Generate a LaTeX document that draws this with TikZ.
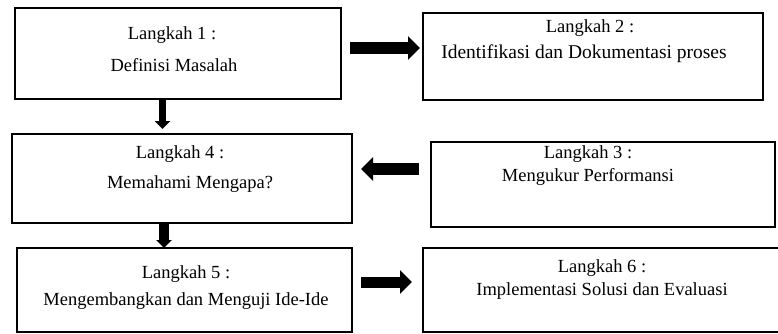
\documentclass[tikz,border=0pt]{standalone}
\usepackage{fontspec}
\setmainfont{Liberation Serif}
\usetikzlibrary{arrows.meta}
\tikzset{
  box/.style={draw=black, line width=2.5pt, fill=white, rectangle, inner sep=0pt},
  txt/.style={inner sep=0pt, text height=13pt, text depth=4pt, font=\fontsize{18.5}{22}\selectfont},
  harrow/.style={line width=12pt, -{Triangle[width=23pt,length=12pt]}},
  varrow/.style={line width=#1, -{Triangle[width=15pt,length=8pt]}},
}
\begin{document}
\begin{tikzpicture}[x=1pt,y=-1pt]
\useasboundingbox[fill=white] (0,0) rectangle (778,334);
% boxes
\node[box, minimum width=326pt, minimum height=91pt] (b1) at (178,53.5) {};
\node[box, minimum width=340pt, minimum height=87pt] (b2) at (593,56.5) {};
\node[box, minimum width=340pt, minimum height=89pt] (b4) at (182,178.5) {};
\node[box, minimum width=344pt, minimum height=85pt] (b3) at (603,184.5) {};
\node[box, minimum width=335pt, minimum height=84pt] (b5) at (184.5,290) {};
\node[box, minimum width=356pt, minimum height=84pt] (b6) at (601,290) {};
% texts
\node[txt] (t1a) at (172,35) {Langkah 1 :};
\node[txt] (t1b) at (174,67) {Definisi Masalah};
\node[txt] (t2a) at (590,28) {Langkah 2 :};
\node[txt, font=\fontsize{19.5}{22}\selectfont] (t2b) at (584,54) {Identifikasi dan Dokumentasi proses};
\node[txt] (t4a) at (180,154) {Langkah 4 :};
\node[txt] (t4b) at (190,184) {Memahami Mengapa?};
\node[txt] (t3a) at (588,154) {Langkah 3 :};
\node[txt] (t3b) at (588,177) {Mengukur Performansi};
\node[txt] (t5a) at (186,274) {Langkah 5 :};
\node[txt] (t5b) at (186,301) {Mengembangkan dan Menguji Ide-Ide};
\node[txt] (t6a) at (602,268) {Langkah 6 :};
\node[txt] (t6b) at (602,291) {Implementasi Solusi dan Evaluasi};
% connector end points
\coordinate (a12s) at (350,48);
\coordinate (a12e) at (420,48);
\coordinate (a34s) at (419,169);
\coordinate (a34e) at (361,169);
\coordinate (a56s) at (361,282);
\coordinate (a56e) at (412,282);
\coordinate (a14s) at (162.5,100);
\coordinate (a14e) at (162.5,129);
\coordinate (a45s) at (164,223);
\coordinate (a45e) at (164,248);
% arrows
\draw[harrow] (a12s) -- (a12e);
\draw[harrow] (a34s) -- (a34e);
\draw[harrow, line width=11pt] (a56s) -- (a56e);
\draw[varrow=7pt] (a14s) -- (a14e);
\draw[varrow=10pt] (a45s) -- (a45e);
\end{tikzpicture}
\end{document}
